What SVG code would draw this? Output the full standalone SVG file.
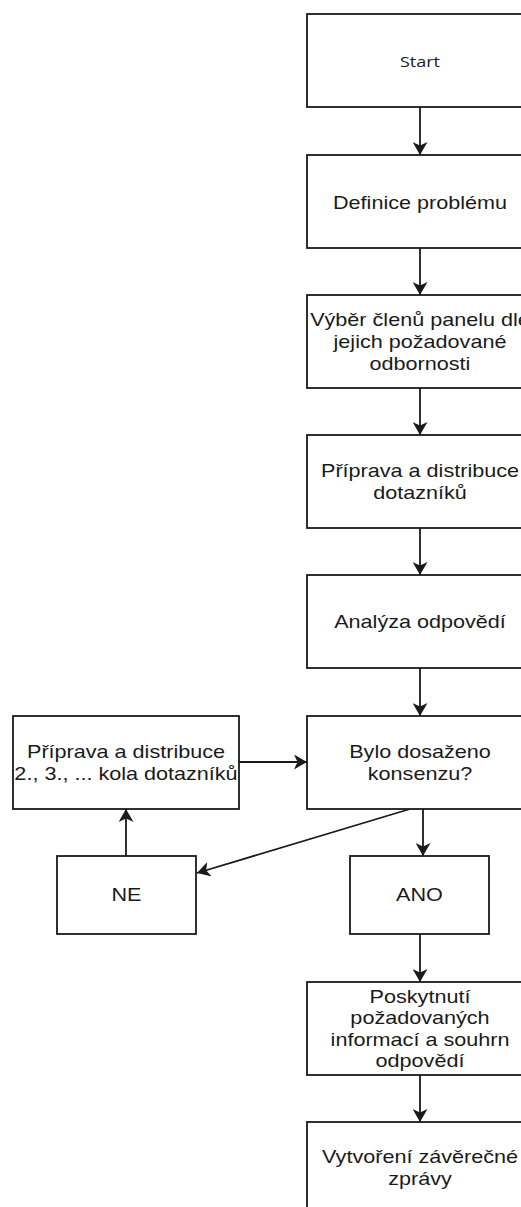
<svg xmlns="http://www.w3.org/2000/svg" width="521" height="1207" viewBox="0 0 521 1207">
<style>
.box{fill:#fff;stroke:#1a1a1a;stroke-width:1.8}
.t{font-family:"Liberation Sans",Arial,sans-serif;font-size:18px;fill:#1a1a1a;text-anchor:middle}
.s{font-family:"Open Sans","Noto Sans",sans-serif;font-size:15px;fill:#1a1a1a;text-anchor:middle}
.c{fill:none;stroke:#1a1a1a;stroke-width:1.8}
</style>
<defs>
<marker id="ah" viewBox="0 0 13 15" refX="13" refY="7.5" markerWidth="13" markerHeight="15" markerUnits="userSpaceOnUse" orient="auto">
<path d="M0,0 L13,7.5 L0,15 L3.5,7.5 z" fill="#1a1a1a"/>
</marker>
</defs>
<rect width="521" height="1207" fill="#fff"/>
<g id="connectors">
<line class="c" x1="420" y1="107" x2="420" y2="155" marker-end="url(#ah)"/>
<line class="c" x1="420" y1="248" x2="420" y2="295" marker-end="url(#ah)"/>
<line class="c" x1="420" y1="388" x2="420" y2="435" marker-end="url(#ah)"/>
<line class="c" x1="420" y1="528" x2="420" y2="575" marker-end="url(#ah)"/>
<line class="c" x1="420" y1="668" x2="420" y2="716" marker-end="url(#ah)"/>
<line class="c" x1="423" y1="809" x2="423" y2="856" marker-end="url(#ah)"/>
<line class="c" x1="410" y1="809" x2="197" y2="873" marker-end="url(#ah)"/>
<line class="c" x1="126" y1="856" x2="126" y2="809" marker-end="url(#ah)"/>
<line class="c" x1="239" y1="762" x2="307" y2="762" marker-end="url(#ah)"/>
<line class="c" x1="420" y1="934" x2="420" y2="982" marker-end="url(#ah)"/>
<line class="c" x1="420" y1="1075" x2="420" y2="1122" marker-end="url(#ah)"/>
</g>
<g id="start">
<rect class="box" x="307" y="14" width="226" height="93"/>
<text class="s" transform="translate(420,0) scale(1.2,1)" x="0" y="67">Start</text>
</g>
<g id="definice">
<rect class="box" x="307" y="155" width="226" height="93"/>
<text class="t" transform="translate(420,0) scale(1.2,1)" x="0" y="209">Definice problému</text>
</g>
<g id="vyber">
<rect class="box" x="307" y="295" width="226" height="93"/>
<text class="t" transform="translate(420,0) scale(1.2,1)" x="0"><tspan x="0" y="326.5">Výběr členů panelu dle</tspan><tspan x="0" y="348">jejich požadované</tspan><tspan x="0" y="369.6">odbornosti</tspan></text>
</g>
<g id="priprava">
<rect class="box" x="307" y="435" width="226" height="93"/>
<text class="t" transform="translate(420,0) scale(1.2,1)" x="0"><tspan x="0" y="477">Příprava a distribuce</tspan><tspan x="0" y="499">dotazníků</tspan></text>
</g>
<g id="analyza">
<rect class="box" x="307" y="575" width="226" height="93"/>
<text class="t" transform="translate(420,0) scale(1.2,1)" x="0" y="628">Analýza odpovědí</text>
</g>
<g id="konsenzus">
<rect class="box" x="307" y="716" width="226" height="93"/>
<text class="t" transform="translate(420,0) scale(1.2,1)" x="0"><tspan x="0" y="758">Bylo dosaženo</tspan><tspan x="0" y="780">konsenzu?</tspan></text>
</g>
<g id="dalsi-kolo">
<rect class="box" x="13" y="716" width="226" height="93"/>
<text class="t" transform="translate(126,0) scale(1.2,1)" x="0"><tspan x="0" y="758">Příprava a distribuce</tspan><tspan x="0" y="780">2., 3., ... kola dotazníků</tspan></text>
</g>
<g id="ne">
<rect class="box" x="57" y="856" width="139" height="78"/>
<text class="t" transform="translate(126.5,0) scale(1.2,1)" x="0" y="901.5">NE</text>
</g>
<g id="ano">
<rect class="box" x="350" y="856" width="139" height="78"/>
<text class="t" transform="translate(419.5,0) scale(1.2,1)" x="0" y="901.5">ANO</text>
</g>
<g id="poskytnuti">
<rect class="box" x="307" y="982" width="226" height="93"/>
<text class="t" transform="translate(420,0) scale(1.2,1)" x="0"><tspan x="0" y="1002.6">Poskytnutí</tspan><tspan x="0" y="1024.2">požadovaných</tspan><tspan x="0" y="1045.8">informací a souhrn</tspan><tspan x="0" y="1067.4">odpovědí</tspan></text>
</g>
<g id="zprava">
<rect class="box" x="307" y="1122" width="226" height="93"/>
<text class="t" transform="translate(420,0) scale(1.2,1)" x="0"><tspan x="0" y="1163">Vytvoření závěrečné</tspan><tspan x="0" y="1185">zprávy</tspan></text>
</g>
</svg>
